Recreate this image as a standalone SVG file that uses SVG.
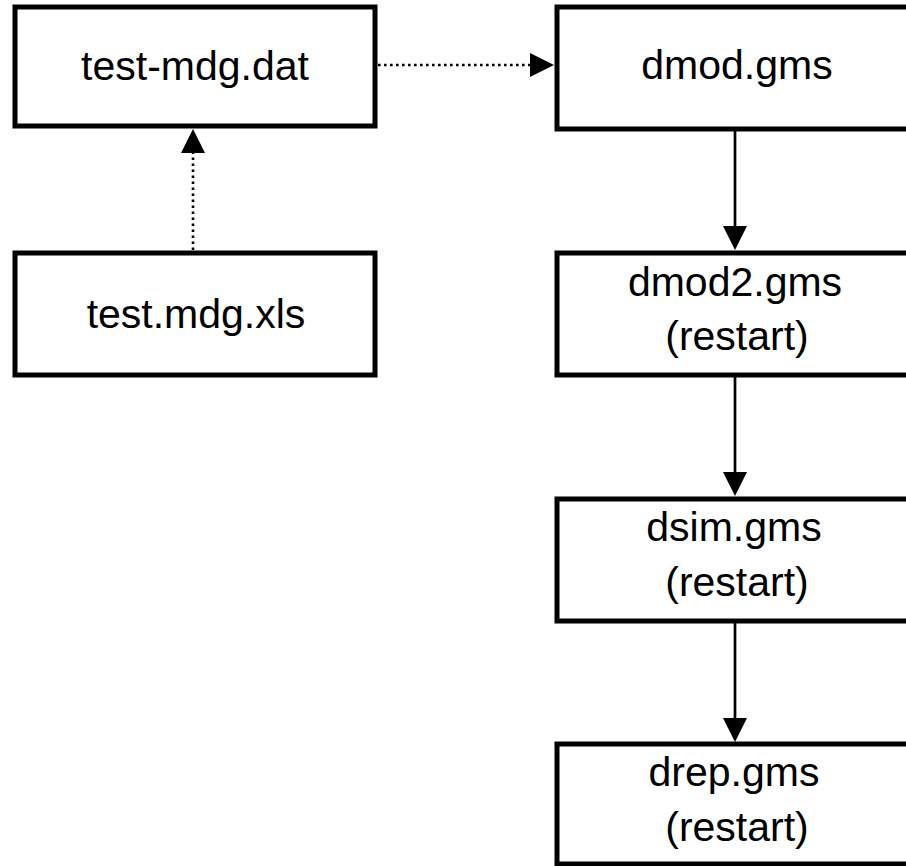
<svg xmlns="http://www.w3.org/2000/svg" width="906" height="866" viewBox="0 0 906 866">
<defs>
<style>
.box{fill:#fff;stroke:#000;stroke-width:5}
.lbl{font-family:"Liberation Sans",Arial,sans-serif;font-size:41px;fill:#000;text-anchor:middle}
.solid{stroke:#000;stroke-width:2.7;fill:none}
.dot{stroke:#000;stroke-width:2.6;fill:none;stroke-dasharray:2.6 3.4}
.head{fill:#000;stroke:none}
</style>
</defs>
<rect width="906" height="866" fill="#fff"/>
<g id="node-test-mdg-dat">
<rect class="box" x="15" y="7" width="360" height="119"/>
<text class="lbl" x="195" y="80">test-mdg.dat</text>
</g>
<g id="node-test-mdg-xls">
<rect class="box" x="15" y="253" width="360" height="122"/>
<text class="lbl" x="196" y="328">test.mdg.xls</text>
</g>
<g id="node-dmod">
<rect class="box" x="557" y="7" width="370" height="122"/>
<text class="lbl" x="737" y="79">dmod.gms</text>
</g>
<g id="node-dmod2">
<rect class="box" x="557" y="253" width="370" height="122"/>
<text class="lbl" x="735" y="296">dmod2.gms</text>
<text class="lbl" x="737" y="350">(restart)</text>
</g>
<g id="node-dsim">
<rect class="box" x="557" y="499" width="370" height="122"/>
<text class="lbl" x="734" y="541">dsim.gms</text>
<text class="lbl" x="737" y="596">(restart)</text>
</g>
<g id="node-drep">
<rect class="box" x="557" y="744" width="370" height="120"/>
<text class="lbl" x="734" y="786">drep.gms</text>
<text class="lbl" x="737" y="841">(restart)</text>
</g>
<g id="connectors">
<line class="dot" x1="378" y1="65" x2="530" y2="65"/>
<polygon class="head" points="530,53 554,65 530,77"/>
<line class="dot" x1="193" y1="250" x2="193" y2="153"/>
<polygon class="head" points="181,153 193,129 205,153"/>
<line class="solid" x1="735" y1="131" x2="735" y2="226"/>
<polygon class="head" points="723,226 735,250 747,226"/>
<line class="solid" x1="735" y1="377" x2="735" y2="472"/>
<polygon class="head" points="723,472 735,496 747,472"/>
<line class="solid" x1="735" y1="623" x2="735" y2="718"/>
<polygon class="head" points="723,718 735,742 747,718"/>
</g>
</svg>
